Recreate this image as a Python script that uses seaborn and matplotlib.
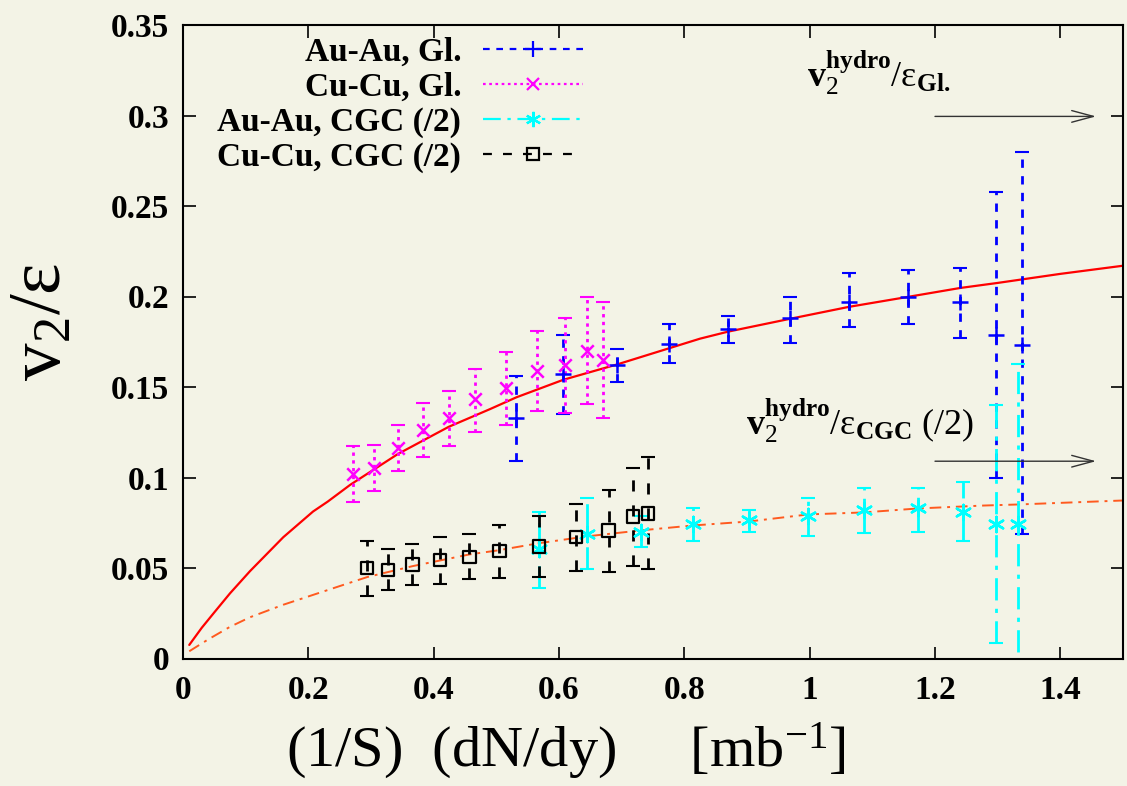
import numpy as np
import pandas as pd
import matplotlib
matplotlib.use("Agg")
import matplotlib.pyplot as plt
from matplotlib.lines import Line2D
from matplotlib.ticker import FuncFormatter
import seaborn as sns

# ---------------- data ----------------
auau_gl_x = [0.532, 0.607, 0.693, 0.776, 0.870, 0.969, 1.063, 1.157, 1.240, 1.298, 1.339]
auau_gl_y = [0.133, 0.157, 0.162, 0.174, 0.182, 0.188, 0.197, 0.200, 0.197, 0.179, 0.173]
auau_gl_lo = [0.109, 0.135, 0.153, 0.163, 0.1745, 0.1745, 0.183, 0.185, 0.177, 0.100, 0.0686]
auau_gl_hi = [0.156, 0.179, 0.171, 0.185, 0.189, 0.200, 0.213, 0.2146, 0.216, 0.258, 0.280]

cucu_gl_x = [0.271, 0.305, 0.343, 0.383, 0.424, 0.466, 0.516, 0.565, 0.610, 0.645, 0.670]
cucu_gl_y = [0.102, 0.1054, 0.1164, 0.1262, 0.1328, 0.1432, 0.1493, 0.159, 0.162, 0.170, 0.1647]
cucu_gl_lo = [0.0867, 0.0928, 0.1037, 0.1114, 0.1175, 0.125, 0.129, 0.1367, 0.1356, 0.1405, 0.1328]
cucu_gl_hi = [0.1175, 0.118, 0.129, 0.141, 0.148, 0.160, 0.1696, 0.181, 0.188, 0.1998, 0.197]

auau_cgc_x = [0.568, 0.645, 0.731, 0.814, 0.903, 0.998, 1.086, 1.173, 1.245, 1.298, 1.333]
auau_cgc_y = [0.0604, 0.0686, 0.070, 0.0741, 0.0763, 0.0785, 0.0818, 0.0829, 0.081, 0.0744, 0.0744]
auau_cgc_lo = [0.039, 0.0494, 0.0615, 0.0648, 0.0697, 0.0675, 0.0692, 0.0697, 0.065, 0.0085, -0.02]
auau_cgc_hi = [0.0807, 0.0884, 0.0785, 0.0834, 0.0823, 0.0884, 0.0944, 0.0944, 0.0977, 0.140, 0.1625]

cucu_cgc_x = [0.294, 0.327, 0.366, 0.410, 0.457, 0.505, 0.568, 0.627, 0.679, 0.718, 0.742]
cucu_cgc_y = [0.0499, 0.0488, 0.052, 0.0543, 0.056, 0.0593, 0.062, 0.067, 0.0708, 0.0785, 0.0801]
cucu_cgc_lo = [0.0346, 0.0379, 0.0406, 0.0412, 0.0439, 0.0445, 0.045, 0.0483, 0.0477, 0.051, 0.0494]
cucu_cgc_hi = [0.0648, 0.0604, 0.0631, 0.067, 0.0686, 0.074, 0.079, 0.0856, 0.0933, 0.1054, 0.1114]

hydro_gl_x = [0.01, 0.03, 0.05, 0.075, 0.107, 0.16, 0.2075, 0.231, 0.267, 0.343, 0.424, 0.49,
              0.532, 0.607, 0.693, 0.825, 0.870, 0.969, 1.063, 1.157, 1.24, 1.3, 1.4, 1.5]
hydro_gl_y = [0.0075, 0.017, 0.0255, 0.036, 0.0483, 0.067, 0.0812, 0.0867, 0.096, 0.113, 0.128,
              0.1378, 0.1443, 0.154, 0.1625, 0.1767, 0.1806, 0.1877, 0.1943, 0.1998, 0.2047, 0.2075,
              0.2125, 0.217]

hydro_cgc_x = [0.01, 0.04, 0.075, 0.107, 0.16, 0.25, 0.294, 0.366, 0.457, 0.5, 0.568, 0.645,
               0.731, 0.814, 0.903, 0.998, 1.086, 1.173, 1.277, 1.333, 1.5]
hydro_cgc_y = [0.004, 0.0105, 0.0175, 0.0228, 0.0297, 0.040, 0.045, 0.051, 0.0575, 0.0596, 0.0637,
               0.0675, 0.0708, 0.0735, 0.0757, 0.0796, 0.0807, 0.0829, 0.0845, 0.0851, 0.0873]

legend_labels = ["Au-Au, Gl.", "Cu-Cu, Gl.", "Au-Au, CGC (/2)", "Cu-Cu, CGC (/2)"]
x_ticks = [0, 0.2, 0.4, 0.6, 0.8, 1.0, 1.2, 1.4]
y_ticks = [0, 0.05, 0.1, 0.15, 0.2, 0.25, 0.3, 0.35]

# ---------------- style ----------------
BG = "#F3F3E6"
sns.set_theme(style="ticks")
plt.rcParams["font.family"] = ["Liberation Serif", "DejaVu Serif"]
plt.rcParams["mathtext.fontset"] = "custom"
plt.rcParams["mathtext.rm"] = "Liberation Serif"
plt.rcParams["mathtext.it"] = "Liberation Serif:italic"
plt.rcParams["mathtext.bf"] = "Liberation Serif:bold"
plt.rcParams["axes.facecolor"] = BG
plt.rcParams["figure.facecolor"] = BG
plt.rcParams["text.color"] = "black"
plt.rcParams["axes.labelcolor"] = "black"
plt.rcParams["xtick.color"] = "black"
plt.rcParams["ytick.color"] = "black"

fig = plt.figure(figsize=(11.27, 7.86), dpi=100)
ax = fig.add_axes([183 / 1127, 1 - 658.5 / 786, 940 / 1127, (658.5 - 25) / 786])
ax.set_facecolor(BG)

# hydro curves
sns.lineplot(x=hydro_gl_x, y=hydro_gl_y, ax=ax, color="#FF0000", lw=1.6, sort=False)
sns.lineplot(x=hydro_cgc_x, y=hydro_cgc_y, ax=ax, color="#FF5A1F", lw=1.4, sort=False,
             linestyle=(0, (6, 3, 1.5, 3)))

series = [
    (auau_gl_x, auau_gl_y, auau_gl_lo, auau_gl_hi, "#0000FF", "+", (0, (3, 3)), 11),
    (cucu_gl_x, cucu_gl_y, cucu_gl_lo, cucu_gl_hi, "#FF00FF", "x", (0, (1.2, 1.6)), 9),
    (auau_cgc_x, auau_cgc_y, auau_cgc_lo, auau_cgc_hi, "#00FFFF", (6, 2, 0), (0, (8, 3, 1.5, 3)), 11),
    (cucu_cgc_x, cucu_cgc_y, cucu_cgc_lo, cucu_cgc_hi, "#000000", "s", (0, (4, 5)), 9),
]

handles = []
for xs, ys, lo, hi, col, mk, ls, ms in series:
    xs = np.array(xs); ys = np.array(ys)
    yerr = np.vstack([ys - np.array(lo), np.array(hi) - ys])
    eb = ax.errorbar(xs, ys, yerr=yerr, fmt="none", ecolor=col, elinewidth=2.0,
                     capsize=5, capthick=1.5, zorder=3)
    eb[2][0].set_linestyle(ls)
    df = pd.DataFrame({"x": xs, "y": ys})
    if mk == "s":
        sns.scatterplot(data=df, x="x", y="y", ax=ax, marker="s", s=ms ** 2,
                        facecolors="none", edgecolor=col, linewidth=1.6, zorder=4)
    else:
        sns.scatterplot(data=df, x="x", y="y", ax=ax, marker=mk, s=ms ** 2,
                        color=col, linewidth=1.8, zorder=4)
    handles.append(Line2D([], [], color=col, linestyle=ls, lw=1.6, marker=mk,
                          markersize=ms, markerfacecolor="none", markeredgecolor=col,
                          markeredgewidth=1.6))

leg = ax.legend(handles, legend_labels, loc="upper right", bbox_to_anchor=(0.4255, 0.982),
                frameon=False, markerfirst=False, handlelength=3.0,
                handletextpad=0.65, labelspacing=0.12, borderpad=0, borderaxespad=0,
                prop={"weight": "bold", "size": 24, "family": "Liberation Serif"})

# annotations
arrow_kw = dict(arrowstyle="->,head_length=1.3,head_width=0.35", color="#333333",
                lw=1.0, shrinkA=0, shrinkB=0)
ax.annotate("", xy=(1.457, 0.2995), xytext=(1.2, 0.2995), arrowprops=arrow_kw)
ax.annotate("", xy=(1.457, 0.109), xytext=(1.2, 0.109), arrowprops=arrow_kw)
ax.text(0.996, 0.3157, r"$\mathbf{v}_{\mathrm{2}}^{\mathbf{hydro}}/\mathrm{ε}_{\mathbf{Gl.}}$",
        fontsize=26, ha="left", va="baseline", color="black")
ax.text(0.898, 0.1235, r"$\mathbf{v}_{\mathrm{2}}^{\mathbf{hydro}}/\mathrm{ε}_{\mathbf{CGC}}$ (/2)",
        fontsize=26, ha="left", va="baseline", color="black")

# axes
ax.set_xlim(0, 1.5)
ax.set_ylim(0, 0.35)
ax.set_xticks(x_ticks)
ax.set_yticks(y_ticks)
fmt = FuncFormatter(lambda v, p: "%g" % round(v, 3))
ax.xaxis.set_major_formatter(fmt)
ax.yaxis.set_major_formatter(fmt)
ax.tick_params(direction="in", length=9, width=1.2, top=True, right=True,
               labelsize=24, colors="black")
ax.tick_params(axis="x", pad=12)
ax.tick_params(axis="y", pad=10)
for lab in ax.get_xticklabels() + ax.get_yticklabels():
    lab.set_fontweight("bold")
for sp in ax.spines.values():
    sp.set_visible(True)
    sp.set_linewidth(1.5)
    sp.set_color("black")

ax.set_xlabel(r"(1/S)  (dN/dy)     [mb$^{\mathrm{-1}}$]", fontsize=42)
ax.xaxis.set_label_coords(0.4075, -0.098)
ax.set_ylabel(r"$\mathrm{v}_{\mathrm{2}}/\mathrm{ε}$", fontsize=54)
ax.yaxis.set_label_coords(-0.113, 0.531)

fig.savefig("out.png", dpi=100, facecolor=BG)
